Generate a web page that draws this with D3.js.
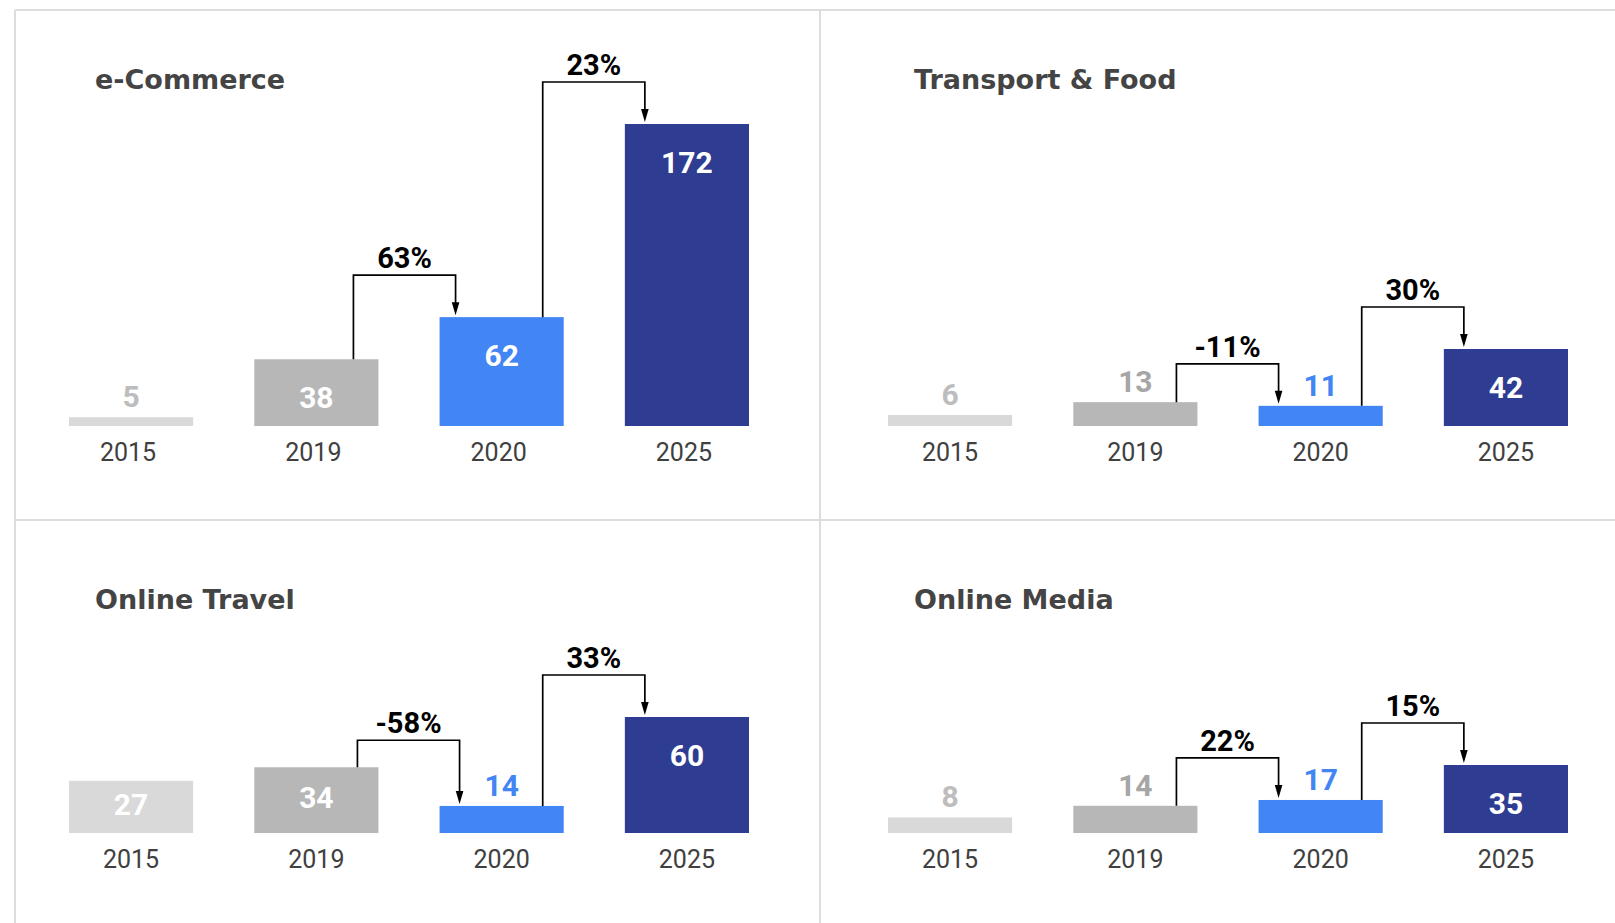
<!DOCTYPE html>
<html>
<head>
<meta charset="utf-8">
<script src="https://cdn.jsdelivr.net/npm/d3@7"></script>
<style>
  html, body { margin: 0; padding: 0; background: #fff; }
  svg { display: block; }
</style>
</head>
<body>
<svg id="chart"></svg>
<script>
// data
const years = ["2015", "2019", "2020", "2025"];
const panelNames = ["e-Commerce", "Transport & Food", "Online Travel", "Online Media"];
const eCommerce = [5, 38, 62, 172];
const transportFood = [6, 13, 11, 42];
const onlineTravel = [27, 34, 14, 60];
const onlineMedia = [8, 14, 17, 35];
const eCommerceGrowth = ["63%", "23%"];
const transportFoodGrowth = ["-11%", "30%"];
const onlineTravelGrowth = ["-58%", "33%"];
const onlineMediaGrowth = ["22%", "15%"];

// colours
const barColors = ["#d9d9d9", "#b7b7b7", "#4285f4", "#2e3c91"];
const outLabelColors = ["#bdbdbd", "#a6a6a6", "#4285f4", "#2e3c91"];
const gridColor = "#dddddd";

// layout
const width = 1615, height = 923;
const colX = [69, 888];        // left edge of first bar
const titleX = [95, 914];
const rowTitleY = [89, 609];
const rowBaseY = [426, 833];
const tallestPx = [302, 77, 116, 68]; // pixel height of the tallest bar per panel
const yearShift = [-3, 0, 0, 0];      // small nudges seen in the original
const linkShift = [[-4, 0], [0, 0], [0, 0], [0, 0]];

const panels = [
  { name: panelNames[0], values: eCommerce, growth: eCommerceGrowth, col: 0, row: 0 },
  { name: panelNames[1], values: transportFood, growth: transportFoodGrowth, col: 1, row: 0 },
  { name: panelNames[2], values: onlineTravel, growth: onlineTravelGrowth, col: 0, row: 1 },
  { name: panelNames[3], values: onlineMedia, growth: onlineMediaGrowth, col: 1, row: 1 }
];

const svg = d3.select("#chart")
  .attr("width", width)
  .attr("height", height)
  .style("font-family", "Roboto, sans-serif");

svg.append("rect").attr("width", width).attr("height", height).attr("fill", "#fff");

// panel grid lines
const grid = svg.append("g").attr("stroke", gridColor).attr("stroke-width", 2);
grid.append("line").attr("x1", 15).attr("x2", width).attr("y1", 10).attr("y2", 10);
grid.append("line").attr("x1", 15).attr("x2", width).attr("y1", 520).attr("y2", 520);
grid.append("line").attr("x1", 15).attr("x2", 15).attr("y1", 10).attr("y2", height);
grid.append("line").attr("x1", 820).attr("x2", 820).attr("y1", 10).attr("y2", height);

const x = d3.scaleBand().domain(years).range([0, 680]).paddingInner(0.33).paddingOuter(0);

panels.forEach((p, pi) => {
  const base = rowBaseY[p.row];
  const g = svg.append("g").attr("transform", `translate(${colX[p.col]},0)`);
  const y = d3.scaleLinear().domain([0, d3.max(p.values)]).range([0, tallestPx[pi]]);
  const data = years.map((yr, i) => ({ yr, i, v: p.values[i], h: y(p.values[i]), top: base - y(p.values[i]) }));

  svg.append("text")
    .attr("x", titleX[p.col])
    .attr("y", rowTitleY[p.row])
    .attr("fill", "#444")
    .style("font-family", "'DejaVu Sans', sans-serif")
    .style("font-weight", 700)
    .style("font-size", "27px")
    .text(p.name);

  g.selectAll("rect.bar")
    .data(data)
    .join("rect")
    .attr("class", "bar")
    .attr("x", d => x(d.yr))
    .attr("y", d => d.top)
    .attr("width", x.bandwidth())
    .attr("height", d => d.h)
    .attr("fill", d => barColors[d.i]);

  // value labels: above short bars, inside taller ones
  g.selectAll("text.val")
    .data(data)
    .join("text")
    .attr("class", "val")
    .attr("x", d => x(d.yr) + x.bandwidth() / 2)
    .attr("y", d => d.h < 45 ? d.top - 10 : (d.h >= 66 ? d.top + 49 : d.top + d.h / 2 + 8))
    .attr("text-anchor", "middle")
    .attr("fill", d => d.h < 45 ? outLabelColors[d.i] : "#fff")
    .style("font-weight", 700)
    .style("font-size", "30px")
    .text(d => d.v);

  // year labels
  g.selectAll("text.yr")
    .data(data)
    .join("text")
    .attr("class", "yr")
    .attr("x", d => x(d.yr) + x.bandwidth() / 2 + yearShift[pi])
    .attr("y", base + 35)
    .attr("text-anchor", "middle")
    .attr("fill", "#404040")
    .style("font-size", "25px")
    .text(d => d.yr);

  // growth connectors 2019->2020, 2020->2025
  p.growth.forEach((label, k) => {
    const s = data[k + 1], t = data[k + 2];
    const sx = x(s.yr) + x.bandwidth() - 21 + linkShift[pi][k];
    const tx = x(t.yr) + 20 + linkShift[pi][k];
    const hy = Math.min(t.top - 42, s.top - 27);
    const tip = t.top - 2;
    g.append("path")
      .attr("d", `M${sx},${s.top}V${hy}H${tx}V${tip - 11}`)
      .attr("fill", "none")
      .attr("stroke", "#000")
      .attr("stroke-width", 1.7);
    g.append("path")
      .attr("d", `M${tx - 3.8},${tip - 13}L${tx + 3.8},${tip - 13}L${tx},${tip}Z`)
      .attr("fill", "#000");
    g.append("text")
      .attr("x", (sx + tx) / 2)
      .attr("y", hy - 7)
      .attr("text-anchor", "middle")
      .attr("fill", "#000")
      .style("font-weight", 700)
      .style("font-size", "29px")
      .text(label);
  });
});
</script>
</body>
</html>
